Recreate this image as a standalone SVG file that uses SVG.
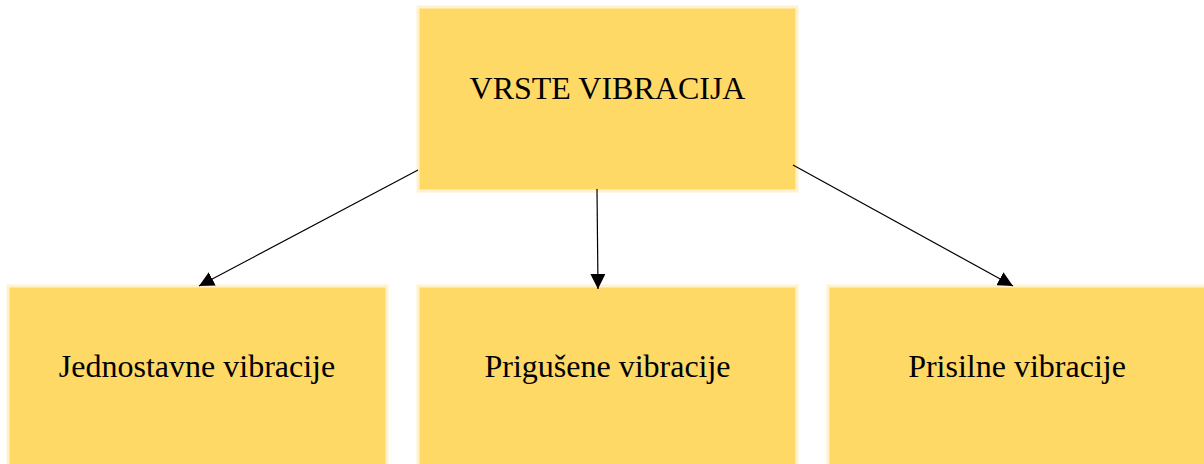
<svg xmlns="http://www.w3.org/2000/svg" width="1204" height="464" viewBox="0 0 1204 464">
<style>
.box{fill:#FFD966;stroke:#FFF2CC;stroke-width:3}
.lbl{font-family:"Liberation Serif","Times New Roman",serif;font-size:32px;fill:#000;text-anchor:middle}
.edge{stroke:#000;stroke-width:1.2;fill:none}
</style>
<defs>
<marker id="arr" viewBox="0 0 15 15" refX="15" refY="7.5" markerWidth="15" markerHeight="15" markerUnits="userSpaceOnUse" orient="auto">
<path d="M0,0 L15,7.5 L0,15 Z" fill="#000"/>
</marker>
</defs>
<rect width="1204" height="464" fill="#fff"/>
<g id="n0">
<rect class="box" x="418" y="7" width="379" height="184"/>
<text class="lbl" x="607.5" y="99">VRSTE VIBRACIJA</text>
</g>
<g id="n1">
<rect class="box" x="8" y="286" width="379" height="184"/>
<text class="lbl" x="197" y="377">Jednostavne vibracije</text>
</g>
<g id="n2">
<rect class="box" x="418" y="286" width="379" height="184"/>
<text class="lbl" x="607.5" y="377">Prigušene vibracije</text>
</g>
<g id="n3">
<rect class="box" x="828" y="286" width="379" height="184"/>
<text class="lbl" x="1017" y="377">Prisilne vibracije</text>
</g>
<g id="connectors">
<line class="edge" x1="418" y1="170" x2="199" y2="286" marker-end="url(#arr)"/>
<line class="edge" x1="597" y1="189" x2="598" y2="289" marker-end="url(#arr)"/>
<line class="edge" x1="793" y1="165" x2="1013" y2="286" marker-end="url(#arr)"/>
</g>
</svg>
